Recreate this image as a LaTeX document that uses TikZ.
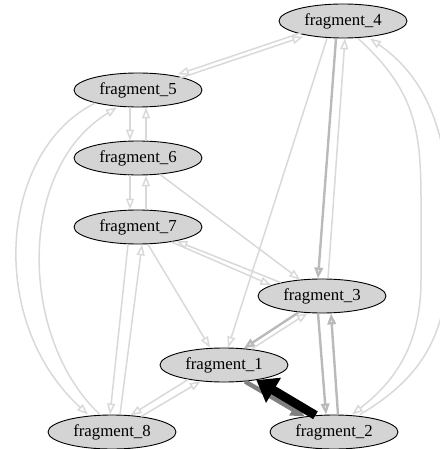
\documentclass[tikz,border=0pt]{standalone}
\usepackage{fontspec}
\setmainfont{Liberation Serif}
\usetikzlibrary{shapes.geometric,arrows.meta}
\begin{document}
\begin{tikzpicture}[x=1pt,y=-1pt,
 frag/.style={ellipse, draw=black, line width=0.9pt, fill=black!17, minimum width=128pt, minimum height=34pt, inner sep=0pt, font=\fontsize{16.8}{20}\selectfont},
 el/.style={draw=black!15, line width=1.5pt, -{Triangle[open,length=11pt,width=8pt]}},
 em/.style={draw=black!27, line width=2.4pt, -{Triangle[open,length=11pt,width=8.5pt]}},
 ed/.style={draw=black!50, line width=4.5pt, -{Triangle[length=14pt,width=13pt]}},
 eb/.style={draw=black, line width=9pt, -{Triangle[length=20pt,width=28pt]}},
]
\useasboundingbox (0,0) rectangle (439,449);
\node[frag] (f4) at (343,21) {fragment\_4};
\node[frag] (f5) at (138,90) {fragment\_5};
\node[frag] (f6) at (138,158) {fragment\_6};
\node[frag] (f7) at (138,227) {fragment\_7};
\node[frag] (f3) at (322,296) {fragment\_3};
\node[frag] (f1) at (224,365) {fragment\_1};
\node[frag] (f8) at (112,432) {fragment\_8};
\node[frag] (f2) at (334,432) {fragment\_2};

\draw[el,transform canvas={shift={(0.7pt,-2pt)}}] (f5) -- (f4);
\draw[el,transform canvas={shift={(-0.7pt,2pt)}}] (f4) -- (f5);
\draw[el] ([xshift=-8pt]f5.south) -- ([xshift=-8pt]f6.north);
\draw[el] ([xshift=8pt]f6.north) -- ([xshift=8pt]f5.south);
\draw[el] ([xshift=-8pt]f6.south) -- ([xshift=-8pt]f7.north);
\draw[el] ([xshift=8pt]f7.north) -- ([xshift=8pt]f6.south);
\draw[el] (f6) -- (f3);
\draw[el] (f7.-24) -- (f3.168);
\draw[el] (f3.162) -- (f7.-20);
\draw[em] ([xshift=-7pt]f4.south) -- ([xshift=-4pt]f3.north);
\draw[el] ([xshift=6pt]f3.north) -- ([xshift=2pt]f4.south);
\draw[el] ([xshift=-16pt]f4.south) -- ([xshift=4pt]f1.north);
\draw[el] ([xshift=10pt]f7.south) -- ([xshift=-14pt]f1.north);
\draw[el] ([xshift=15pt]f4.south) .. controls (415,90) and (421,130) .. (421,200) -- (421,280) .. controls (421,350) and (390,385) .. ([xshift=18pt]f2.north);
\draw[el] ([xshift=26pt]f2.north) .. controls (435,370) and (450,320) .. (450,230) .. controls (450,140) and (430,80) .. ([xshift=27pt]f4.south);
\draw[el] (f5.-163) .. controls (0,150) and (-15,320) .. ([xshift=-24pt]f8.north);
\draw[el] ([xshift=-12pt]f8.north) .. controls (20,340) and (15,170) .. ([xshift=-21pt]f5.south);
\draw[el] ([xshift=-10pt]f7.south) -- ([xshift=-2pt]f8.north);
\draw[el] ([xshift=8pt]f8.north) -- ([xshift=4pt]f7.south);
\draw[el] (f1.-158) -- (f8.42);
\draw[el] (f8.28) -- (f1.-145);
\draw[em] (f3.-145) -- (f1.40);
\draw[el] (f1.30) -- (f3.-130);
\draw[em] ([xshift=-4pt]f3.south) -- ([xshift=-8pt]f2.north);
\draw[em] ([xshift=4pt]f2.north) -- ([xshift=9pt]f3.south);
\draw[ed] (f1.-38) -- (f2.152);
\draw[eb] (f2.138) -- (f1.-25);
\end{tikzpicture}
\end{document}
